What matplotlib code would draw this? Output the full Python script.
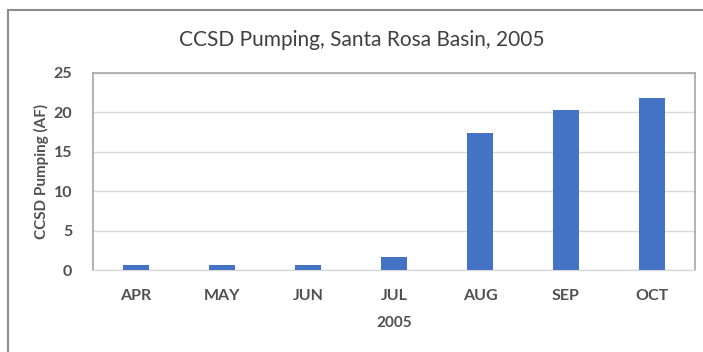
import matplotlib
matplotlib.use("Agg")
import matplotlib.pyplot as plt
from matplotlib.patches import Rectangle

months = ["APR", "MAY", "JUN", "JUL", "AUG", "SEP", "OCT"]
pumping = [0.6, 0.6, 0.6, 1.6, 17.3, 20.3, 21.8]
yticks = [0, 5, 10, 15, 20, 25]

plt.rcParams['font.family'] = ['Lato', 'DejaVu Sans']
txt = '#505050'

fig = plt.figure(figsize=(7.03, 3.52), dpi=100)
fig.patches.append(Rectangle((8/703, -0.1), 1.2, (352-10)/352 + 0.1, transform=fig.transFigure,
                             fill=False, edgecolor='#8c8c8c', linewidth=1.5, zorder=0))
ax = fig.add_axes([93/703, (352-270)/352, (695-93)/703, (270-72.7)/352])

x = list(range(len(months)))
ax.bar(x, pumping, width=0.3, color='#4472C4', zorder=3)
ax.set_xlim(-0.5, len(months) - 0.5)
ax.set_ylim(0, 25)
ax.set_yticks(yticks)
ax.set_xticks(x)
ax.set_xticklabels(months)
ax.yaxis.grid(True, color='#d9d9d9', linewidth=1.0, zorder=0)
ax.set_axisbelow(True)
for s in ['top', 'left', 'right']:
    ax.spines[s].set_color('#a6a6a6')
    ax.spines[s].set_linewidth(1.2)
ax.spines['bottom'].set_color('#d9d9d9')
ax.spines['bottom'].set_linewidth(1.0)
ax.tick_params(axis='both', length=0, labelsize=11.5, labelcolor=txt)
ax.tick_params(axis='y', pad=15)
ax.tick_params(axis='x', pad=14)
for lbl in ax.get_xticklabels() + ax.get_yticklabels():
    lbl.set_fontweight('bold')
ax.set_ylabel("CCSD Pumping (AF)", fontsize=11, fontweight='bold', color=txt, labelpad=3)
ax.set_xlabel("2005", fontsize=11, fontweight='bold', color=txt, labelpad=9)
fig.text(362/703, 1 - 40/352, "CCSD Pumping, Santa Rosa Basin, 2005", ha='center', va='center',
         fontsize=15, color='#404040')

fig.savefig("out.png", dpi=100)
